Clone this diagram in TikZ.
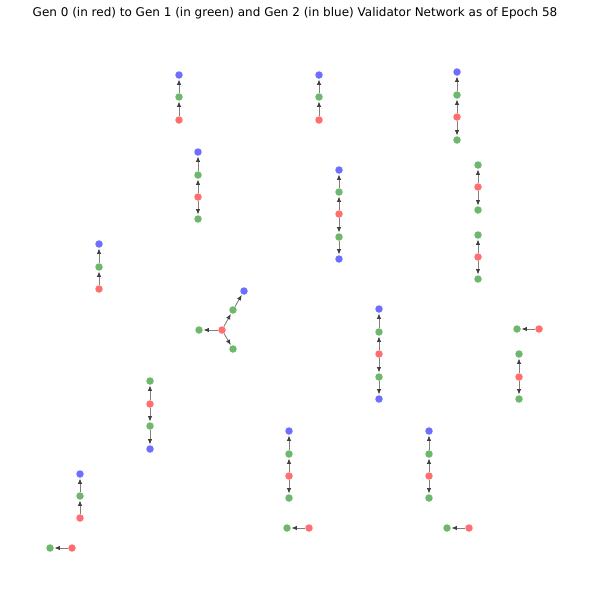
\documentclass[tikz,border=0pt]{standalone}
\usepackage{fontspec}
\setmainfont{DejaVu Sans}
\usetikzlibrary{arrows.meta}
\definecolor{nred}{HTML}{FF6F6F}
\definecolor{ngreen}{HTML}{6DB86D}
\definecolor{nblue}{HTML}{6F6FFF}
\definecolor{edgegray}{HTML}{808080}
\definecolor{tipgray}{HTML}{404040}
\tikzset{
  vr/.style={circle,fill=nred,inner sep=0pt,minimum size=7.5pt},
  vg/.style={circle,fill=ngreen,inner sep=0pt,minimum size=7.5pt},
  vb/.style={circle,fill=nblue,inner sep=0pt,minimum size=7.5pt},
  link/.style={draw=edgegray,line width=0.9pt,shorten >=0.5pt,-{Latex[length=5.5pt,width=4.5pt,color=tipgray]}}
}
\begin{document}
\begin{tikzpicture}[x=1pt,y=-1pt]
\useasboundingbox (0,0) rectangle (590,606);
\node[font=\fontsize{12}{14}\selectfont,inner sep=0pt] (title) at (295,13.5) {Gen 0 (in red) to Gen 1 (in green) and Gen 2 (in blue) Validator Network as of Epoch 58};
% A
\node[vb] (a1) at (179,75) {};
\node[vg] (a2) at (179,97) {};
\node[vr] (a3) at (179,120) {};
\draw[link] (a3) -- (a2); \draw[link] (a2) -- (a1);
% B
\node[vb] (b1) at (319,75) {};
\node[vg] (b2) at (319,97) {};
\node[vr] (b3) at (319,120) {};
\draw[link] (b3) -- (b2); \draw[link] (b2) -- (b1);
% C
\node[vb] (c1) at (457,72) {};
\node[vg] (c2) at (457,95) {};
\node[vr] (c3) at (457,117) {};
\node[vg] (c4) at (457,140) {};
\draw[link] (c3) -- (c2); \draw[link] (c2) -- (c1); \draw[link] (c3) -- (c4);
% D
\node[vb] (d1) at (198,152) {};
\node[vg] (d2) at (198,175) {};
\node[vr] (d3) at (198,197) {};
\node[vg] (d4) at (198,219) {};
\draw[link] (d3) -- (d2); \draw[link] (d2) -- (d1); \draw[link] (d3) -- (d4);
% E
\node[vb] (e1) at (339,170) {};
\node[vg] (e2) at (339,192) {};
\node[vr] (e3) at (339,214) {};
\node[vg] (e4) at (339,237) {};
\node[vb] (e5) at (339,259) {};
\draw[link] (e3) -- (e2); \draw[link] (e2) -- (e1); \draw[link] (e3) -- (e4); \draw[link] (e4) -- (e5);
% F
\node[vg] (f1) at (478,165) {};
\node[vr] (f2) at (478,187) {};
\node[vg] (f3) at (478,210) {};
\draw[link] (f2) -- (f1); \draw[link] (f2) -- (f3);
% G
\node[vg] (g1) at (478,235) {};
\node[vr] (g2) at (478,257) {};
\node[vg] (g3) at (478,279) {};
\draw[link] (g2) -- (g1); \draw[link] (g2) -- (g3);
% H
\node[vb] (h1) at (99,244) {};
\node[vg] (h2) at (99,267) {};
\node[vr] (h3) at (99,289) {};
\draw[link] (h3) -- (h2); \draw[link] (h2) -- (h1);
% I
\node[vr] (i1) at (222,330) {};
\node[vg] (i2) at (199,330) {};
\node[vg] (i3) at (233,310) {};
\node[vb] (i4) at (244,291) {};
\node[vg] (i5) at (233,349) {};
\draw[link] (i1) -- (i2); \draw[link] (i1) -- (i3); \draw[link] (i3) -- (i4); \draw[link] (i1) -- (i5);
% J
\node[vb] (j1) at (379,309) {};
\node[vg] (j2) at (379,332) {};
\node[vr] (j3) at (379,354) {};
\node[vg] (j4) at (379,377) {};
\node[vb] (j5) at (379,399) {};
\draw[link] (j3) -- (j2); \draw[link] (j2) -- (j1); \draw[link] (j3) -- (j4); \draw[link] (j4) -- (j5);
% K
\node[vr] (k1) at (539,329) {};
\node[vg] (k2) at (517,329) {};
\draw[link] (k1) -- (k2);
% L
\node[vg] (l1) at (519,354) {};
\node[vr] (l2) at (519,377) {};
\node[vg] (l3) at (519,399) {};
\draw[link] (l2) -- (l1); \draw[link] (l2) -- (l3);
% M
\node[vg] (m1) at (150,381) {};
\node[vr] (m2) at (150,404) {};
\node[vg] (m3) at (150,426) {};
\node[vb] (m4) at (150,449) {};
\draw[link] (m2) -- (m1); \draw[link] (m2) -- (m3); \draw[link] (m3) -- (m4);
% N
\node[vb] (n1) at (289,431) {};
\node[vg] (n2) at (289,454) {};
\node[vr] (n3) at (289,476) {};
\node[vg] (n4) at (289,498) {};
\draw[link] (n3) -- (n2); \draw[link] (n2) -- (n1); \draw[link] (n3) -- (n4);
% O
\node[vb] (o1) at (429,431) {};
\node[vg] (o2) at (429,454) {};
\node[vr] (o3) at (429,476) {};
\node[vg] (o4) at (429,498) {};
\draw[link] (o3) -- (o2); \draw[link] (o2) -- (o1); \draw[link] (o3) -- (o4);
% P
\node[vr] (p1) at (309,528) {};
\node[vg] (p2) at (287,528) {};
\draw[link] (p1) -- (p2);
% Q
\node[vr] (q1) at (469,528) {};
\node[vg] (q2) at (447,528) {};
\draw[link] (q1) -- (q2);
% R
\node[vb] (ra1) at (80,474) {};
\node[vg] (ra2) at (80,496) {};
\node[vr] (ra3) at (80,518) {};
\draw[link] (ra3) -- (ra2); \draw[link] (ra2) -- (ra1);
% S
\node[vr] (sa1) at (72,548) {};
\node[vg] (sa2) at (50,548) {};
\draw[link] (sa1) -- (sa2);
\end{tikzpicture}
\end{document}
